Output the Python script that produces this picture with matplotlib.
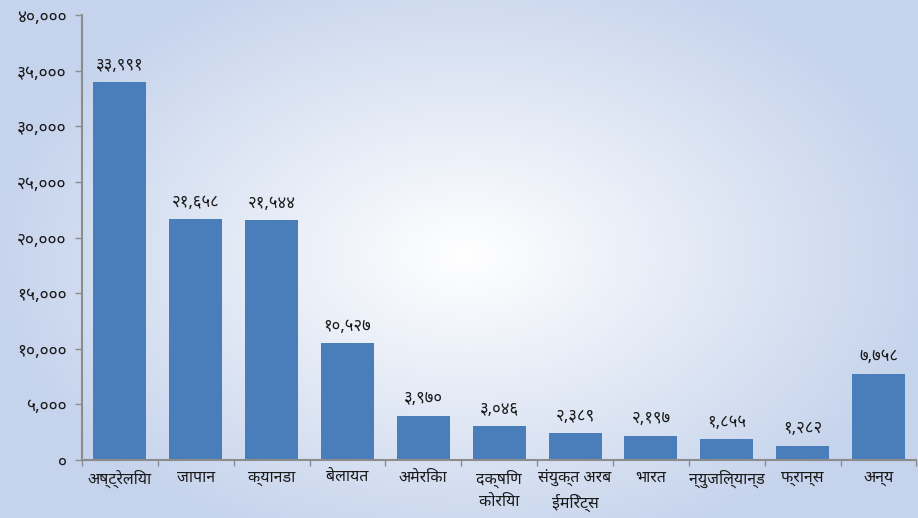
import numpy as np
import matplotlib
matplotlib.use("Agg")
import matplotlib.pyplot as plt
from matplotlib import font_manager as fm

# data
countries = ["अष्ट्रेलिया", "जापान", "क्यानडा", "बेलायत", "अमेरिका", "दक्षिण\nकोरिया",
             "संयुक्त अरब\nईमिरेट्स", "भारत", "न्युजिल्यान्ड", "फ्रान्स", "अन्य"]
workers = [33991, 21658, 21544, 10527, 3970, 3046, 2389, 2197, 1855, 1282, 7758]
yticks = [0, 5000, 10000, 15000, 20000, 25000, 30000, 35000, 40000]

DEVA_DIGITS = str.maketrans("0123456789", "०१२३४५६७८९")


def to_deva(n):
    return f"{n:,}".translate(DEVA_DIGITS)


installed = {f.name for f in fm.fontManager.ttflist}
candidates = ["Noto Sans Devanagari", "Hind", "Mukta", "Tiro Devanagari Hindi", "Poppins"]
deva_font = next((c for c in candidates if c in installed), "DejaVu Sans")
plt.rcParams["font.family"] = [deva_font, "DejaVu Sans"]

W, H = 918, 518
fig = plt.figure(figsize=(W / 100, H / 100), dpi=100)

# radial gradient background
bg = fig.add_axes([0, 0, 1, 1], zorder=-10)
yy, xx = np.mgrid[0:H, 0:W]
r = np.sqrt(((xx - 465) / (W * 0.52)) ** 2 + ((yy - 255) / (H * 0.6)) ** 2)
r = np.clip(r, 0, 1)
edge = np.array([197, 211, 236]) / 255
img = 1 - (1 - edge) * r[..., None]
bg.imshow(img, aspect="auto", extent=[0, 1, 0, 1])
bg.axis("off")

ax = fig.add_axes([0.0893, 0.112, 0.909, 0.859])
ax.set_facecolor("none")

x = np.arange(len(countries))
ax.bar(x, workers, width=0.7, color="#4a7ebb", zorder=2)

for xi, v in zip(x, workers):
    ax.annotate(to_deva(v), (xi, v), xytext=(0, 6), textcoords="offset points",
                ha="center", va="bottom", fontsize=12, color="#1a1a1a")

ax.set_xlim(-0.5, len(countries) - 0.5)
ax.set_ylim(0, 40000)
ax.set_yticks(yticks)
ax.set_yticklabels([to_deva(t) for t in yticks], fontsize=12.5, color="#1a1a1a")

ax.set_xticks(x)
ax.set_xticklabels(countries, fontsize=11.5, color="#1a1a1a", linespacing=1.5)
ax.set_xticks(np.arange(len(countries) + 1) - 0.5, minor=True)
ax.tick_params(axis="x", which="major", length=0, pad=7)
ax.tick_params(axis="x", which="minor", length=4, color="#8c8c8c", width=1)
ax.tick_params(axis="y", length=5, color="#8c8c8c", width=1, pad=6)

for side in ("top", "right"):
    ax.spines[side].set_visible(False)
for side in ("left", "bottom"):
    ax.spines[side].set_color("#8c8c8c")
    ax.spines[side].set_linewidth(1.5)

fig.savefig("out.png", dpi=100)
